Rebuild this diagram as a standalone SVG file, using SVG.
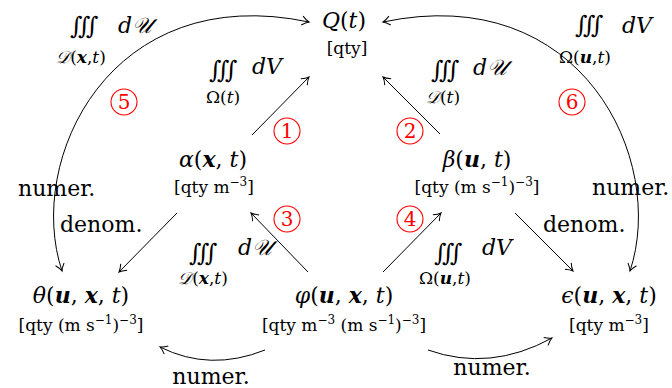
<svg xmlns="http://www.w3.org/2000/svg" width="672" height="388" viewBox="0 0 672 388">
<defs>
<marker id="ah" viewBox="-10 -6 12 12" markerWidth="12" markerHeight="12" refX="0" refY="0" orient="auto-start-reverse" markerUnits="userSpaceOnUse">
<path d="M-7,-4.5 Q-3,-1 0,0 Q-3,1 -7,4.5" fill="none" stroke="#000" stroke-width="1"/>
</marker>
</defs>
<style>
text{font-family:"DejaVu Serif","Liberation Serif",serif;fill:#000}
.m{font-size:22px;text-anchor:middle;font-style:italic}
.u{font-size:17px;text-anchor:middle}
.bi{font-weight:bold;font-style:italic}
.up{font-style:normal}
.int{font-size:24px;font-style:normal}
.d{font-size:22px;font-style:italic}
.sub{font-size:17px;font-style:italic;text-anchor:middle}
.w{font-size:22px}
.c circle{fill:none;stroke:#f00;stroke-width:1.1}
.c text{fill:#f00;font-size:20px;text-anchor:middle}
.e{fill:none;stroke:#000;stroke-width:1}
</style>

<g id="connectors">
<path class="e" d="M252,135 L309,77" marker-end="url(#ah)"/>
<path class="e" d="M440,134 L383,77" marker-end="url(#ah)"/>
<path class="e" d="M308,272 L251,213" marker-end="url(#ah)"/>
<path class="e" d="M383,272 L441,213" marker-end="url(#ah)"/>
<path class="e" d="M177,213 L119,272" marker-end="url(#ah)"/>
<path class="e" d="M515,213 L573,271" marker-end="url(#ah)"/>
<path class="e" d="M265,350 Q210,372 160,347" marker-end="url(#ah)"/>
<path class="e" d="M428,350 Q490,372 552,338" marker-end="url(#ah)"/>
<path class="e" d="M62,271 C25,160 110,-20 309,22" marker-start="url(#ah)" marker-end="url(#ah)"/>
<path class="e" d="M383,22 C582,-20 667,160 630,271" marker-start="url(#ah)" marker-end="url(#ah)"/>
</g>

<g id="Q">
<text class="m" x="344" y="28">Q<tspan class="up">(</tspan>t<tspan class="up">)</tspan></text>
<text class="u" x="347" y="54">[qty]</text>
</g>
<g id="alpha">
<text class="m" x="213" y="167">α<tspan class="up">(</tspan><tspan class="bi">x</tspan><tspan class="up">, </tspan>t<tspan class="up">)</tspan></text>
<text class="u" x="214" y="193">[qty m<tspan font-size="12" dy="-7">−3</tspan><tspan dy="7">]</tspan></text>
</g>
<g id="beta">
<text class="m" x="477" y="167">β<tspan class="up">(</tspan><tspan class="bi">u</tspan><tspan class="up">, </tspan>t<tspan class="up">)</tspan></text>
<text class="u" x="477" y="193">[qty (m s<tspan font-size="12" dy="-7">−1</tspan><tspan dy="7">)</tspan><tspan font-size="12" dy="-7">−3</tspan><tspan dy="7">]</tspan></text>
</g>
<g id="theta">
<text class="m" x="81" y="303">θ<tspan class="up">(</tspan><tspan class="bi">u</tspan><tspan class="up">, </tspan><tspan class="bi">x</tspan><tspan class="up">, </tspan>t<tspan class="up">)</tspan></text>
<text class="u" x="81" y="331">[qty (m s<tspan font-size="12" dy="-7">−1</tspan><tspan dy="7">)</tspan><tspan font-size="12" dy="-7">−3</tspan><tspan dy="7">]</tspan></text>
</g>
<g id="phi">
<text class="m" x="344" y="303">φ<tspan class="up">(</tspan><tspan class="bi">u</tspan><tspan class="up">, </tspan><tspan class="bi">x</tspan><tspan class="up">, </tspan>t<tspan class="up">)</tspan></text>
<text class="u" x="344" y="331">[qty m<tspan font-size="12" dy="-7">−3</tspan><tspan dy="7"> (m s</tspan><tspan font-size="12" dy="-7">−1</tspan><tspan dy="7">)</tspan><tspan font-size="12" dy="-7">−3</tspan><tspan dy="7">]</tspan></text>
</g>
<g id="epsilon">
<text class="m" x="609" y="303">ϵ<tspan class="up">(</tspan><tspan class="bi">u</tspan><tspan class="up">, </tspan><tspan class="bi">x</tspan><tspan class="up">, </tspan>t<tspan class="up">)</tspan></text>
<text class="u" x="609" y="331">[qty m<tspan font-size="12" dy="-7">−3</tspan><tspan dy="7">]</tspan></text>
</g>

<g id="labels">
<text class="int" x="70" y="34">∭</text><text class="d" x="118" y="33">d𝒰</text><text class="sub" x="81" y="63">𝒟<tspan class="up">(</tspan><tspan class="bi">x</tspan><tspan class="up">,</tspan>t<tspan class="up">)</tspan></text>
<text class="int" x="209" y="78">∭</text><text class="d" x="252" y="74">dV</text><text class="sub" x="223" y="103"><tspan class="up">Ω(</tspan>t<tspan class="up">)</tspan></text>
<text class="int" x="431" y="78">∭</text><text class="d" x="473" y="75">d𝒰</text><text class="sub" x="443" y="103">𝒟<tspan class="up">(</tspan>t<tspan class="up">)</tspan></text>
<text class="int" x="575" y="33">∭</text><text class="d" x="622" y="33">dV</text><text class="sub" x="585" y="63"><tspan class="up">Ω(</tspan><tspan class="bi">u</tspan><tspan class="up">,</tspan>t<tspan class="up">)</tspan></text>
<text class="int" x="189" y="261">∭</text><text class="d" x="238" y="255">d𝒰</text><text class="sub" x="203" y="284">𝒟<tspan class="up">(</tspan><tspan class="bi">x</tspan><tspan class="up">,</tspan>t<tspan class="up">)</tspan></text>
<text class="int" x="434" y="261">∭</text><text class="d" x="482" y="255">dV</text><text class="sub" x="445" y="284"><tspan class="up">Ω(</tspan><tspan class="bi">u</tspan><tspan class="up">,</tspan>t<tspan class="up">)</tspan></text>
<text class="w" x="18" y="196">numer.</text>
<text class="w" x="60" y="232">denom.</text>
<text class="w" x="592" y="195">numer.</text>
<text class="w" x="543" y="232">denom.</text>
<text class="w" x="211" y="384" text-anchor="middle">numer.</text>
<text class="w" x="492" y="375" text-anchor="middle">numer.</text>
</g>

<g id="n1" class="c"><circle cx="287" cy="131" r="13"/><text x="287" y="138">1</text></g>
<g id="n2" class="c"><circle cx="410" cy="131" r="13"/><text x="410" y="138">2</text></g>
<g id="n3" class="c"><circle cx="287" cy="219" r="13"/><text x="287" y="226">3</text></g>
<g id="n4" class="c"><circle cx="410" cy="219" r="13"/><text x="410" y="226">4</text></g>
<g id="n5" class="c"><circle cx="124" cy="102" r="13"/><text x="124" y="109">5</text></g>
<g id="n6" class="c"><circle cx="572" cy="102" r="13"/><text x="572" y="109">6</text></g>
</svg>
